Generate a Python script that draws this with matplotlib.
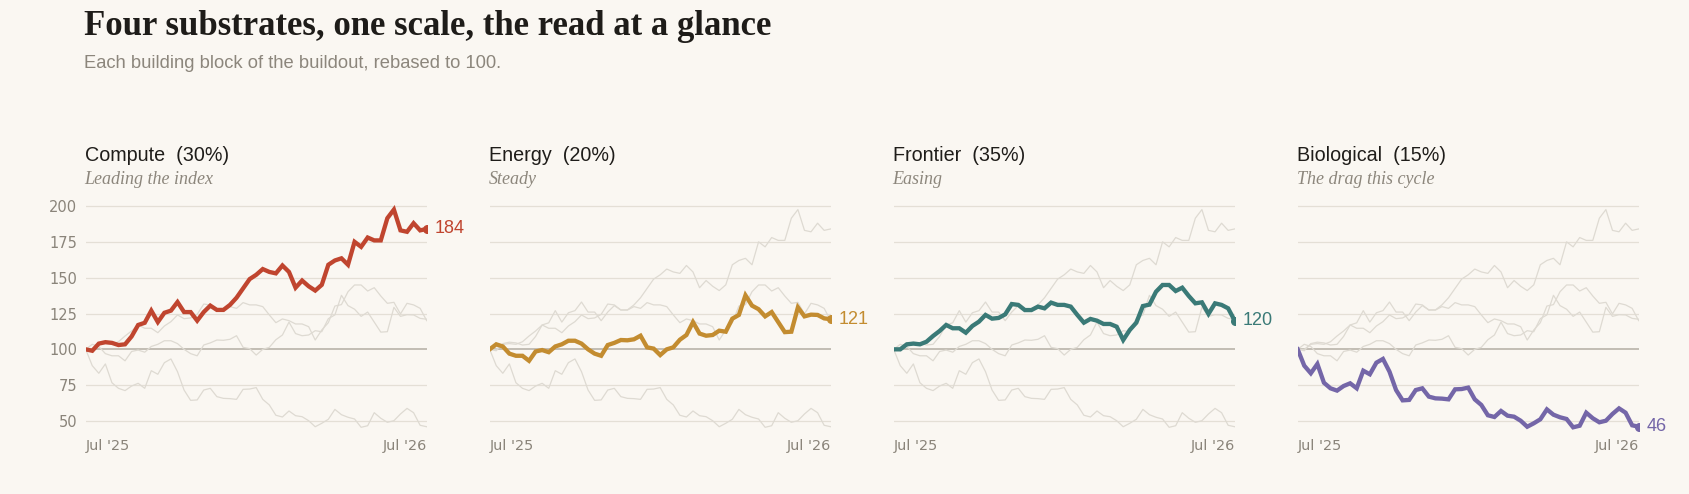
import numpy as np
import pandas as pd
import matplotlib
matplotlib.use("Agg")
import matplotlib.pyplot as plt

# Weekly index values, rebased to 100 (Jul '25 -> Jul '26)
compute = [100, 99, 104, 105, 104.5, 103, 103.5, 109, 117, 118.5,
           127, 119, 125.5, 127, 133, 126, 126, 120, 126, 130.5,
           127.5, 127.5, 131, 136, 142.5, 149, 152, 156, 154, 153,
           158.5, 154, 143, 148, 144, 141, 145, 159, 162, 163.5,
           159, 175, 171.5, 178, 176, 176, 191.5, 197.5, 183, 182,
           188, 183, 184]
energy = [100, 103.5, 102, 97, 95.5, 95.5, 92, 98.5, 99.5, 98,
          102, 103.5, 106, 106, 104, 100, 97, 95.5, 103, 104.5,
          106.5, 106.3, 107, 109.5, 101.4, 100.5, 96, 100, 101.4, 106.7,
          110, 119, 111, 109.5, 110, 113, 112.3, 121.4, 124, 137.7,
          130.5, 128, 123, 126, 119, 112, 112.3, 129.3, 123, 124.2,
          124, 121.6, 121]
frontier = [100, 100, 103.5, 104, 103.5, 105.3, 109.3, 112.8, 117, 114.7,
            114.7, 111.6, 116.3, 119.3, 124, 121.4, 121.9, 124.4, 131.6, 131,
            127.4, 127.4, 129.8, 128.6, 132.6, 131, 131, 129.8, 124, 118.6,
            121.2, 120, 117.7, 117.7, 115.8, 106.5, 113.5, 118.6, 130.2, 131.2,
            140.2, 144.9, 144.9, 140.7, 143, 137.2, 132.1, 132.8, 124.7, 132.1,
            131, 128.6, 120]
biological = [100, 88.6, 83.3, 89.8, 76.7, 72.8, 71.2, 74.4, 76.3, 72.8,
              85.1, 82.6, 90.7, 93.3, 84.4, 71.6, 64.4, 64.7, 71.6, 72.8,
              67, 65.8, 65.6, 65.1, 72.1, 72.3, 73.3, 65.1, 61.2, 54,
              52.8, 57, 53.7, 53, 50.2, 46, 48.4, 51.2, 58.1, 54.4,
              52.6, 51.4, 45.6, 46.7, 55.8, 51.9, 49.1, 50.2, 54.9, 58.8,
              55.8, 47, 46]

names = ["Compute", "Energy", "Frontier", "Biological"]
weights = ["30%", "20%", "35%", "15%"]
notes = ["Leading the index", "Steady", "Easing", "The drag this cycle"]
colors = ["#c0452f", "#c38c30", "#3a7a77", "#7466a8"]
series = [compute, energy, frontier, biological]
dates = pd.date_range("2025-07-01", periods=len(compute), freq="7D")
x_tick_labels = ["Jul '25", "Jul '26"]
y_ticks = [50, 75, 100, 125, 150, 175, 200]

BG = "#faf7f2"
W, H = 1690, 494

fig = plt.figure(figsize=(W / 100, H / 100), dpi=100, facecolor=BG)


def fx(px):
    return px / W


def fy(py):
    return 1 - py / H


fig.text(fx(84), fy(35), "Four substrates, one scale, the read at a glance",
         family="Liberation Serif", fontweight="bold", fontsize=25,
         color="#1e1c19", va="baseline")
fig.text(fx(84), fy(68), "Each building block of the buildout, rebased to 100.",
         family="Liberation Sans", fontsize=13.2, color="#8c867c", va="baseline")

ylo, yhi = 40, 210
px_per = 215 / 150.0
top_px = 206 - (yhi - 200) * px_per
bot_px = 421 + (50 - ylo) * px_per

for k in range(4):
    left_px = 85.7 + 404 * k
    ax = fig.add_axes([fx(left_px), fy(bot_px), 341 / W, (bot_px - top_px) / H])
    ax.set_facecolor(BG)
    for s in ax.spines.values():
        s.set_visible(False)

    for yv in y_ticks:
        if yv == 100:
            ax.axhline(yv, color="#b3ada3", lw=1.1, zorder=1)
        else:
            ax.axhline(yv, color="#e4dfd6", lw=0.9, zorder=0)

    for j in range(4):
        if j != k:
            ax.plot(dates, series[j], color="#dedad2", lw=0.9, zorder=2)

    ax.plot(dates, series[k], color=colors[k], lw=3.1, zorder=4,
            solid_joinstyle="miter")
    ax.plot(dates[-1], series[k][-1], "o", ms=5.5, color=colors[k], zorder=5)
    ax.annotate(f"{series[k][-1]:.0f}", (dates[-1], series[k][-1]),
                xytext=(6, 0), textcoords="offset points", va="center",
                ha="left", family="Liberation Sans", fontsize=13,
                color=colors[k], annotation_clip=False)

    ax.set_xlim(dates[0], dates[-1])
    ax.set_ylim(ylo, yhi)
    ax.set_yticks(y_ticks)
    if k == 0:
        ax.set_yticklabels([str(v) for v in y_ticks], fontsize=10.5,
                           color="#8a847a")
    else:
        ax.set_yticklabels([])
    ax.tick_params(axis="both", length=0, pad=6)

    ax.set_xticks([dates[0], dates[-1]])
    ax.set_xticklabels(x_tick_labels, fontsize=10.4, color="#8a847a")
    xl = ax.get_xticklabels()
    xl[0].set_ha("left")
    xl[1].set_ha("right")
    ax.tick_params(axis="x", pad=2.5)

    fig.text(fx(left_px - 1), fy(161), f"{names[k]}  ({weights[k]})",
             family="Liberation Sans", fontsize=14.2, color="#1f1d1a",
             va="baseline")
    fig.text(fx(left_px - 1), fy(184), notes[k], family="Liberation Serif",
             style="italic", fontsize=13, color="#8c867c", va="baseline")

fig.savefig("out.png", dpi=100, facecolor=BG)
